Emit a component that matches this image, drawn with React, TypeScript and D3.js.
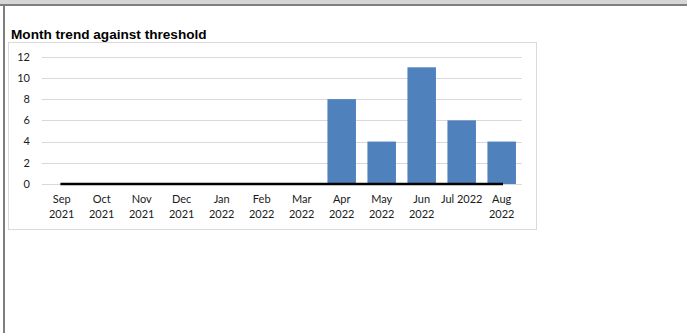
import React from "react";
import * as d3 from "d3";

const categories = ["Sep 2021", "Oct 2021", "Nov 2021", "Dec 2021", "Jan 2022", "Feb 2022", "Mar 2022", "Apr 2022", "May 2022", "Jun 2022", "Jul 2022", "Aug 2022"];
const labelLines = [["Sep", "2021"], ["Oct", "2021"], ["Nov", "2021"], ["Dec", "2021"], ["Jan", "2022"], ["Feb", "2022"], ["Mar", "2022"], ["Apr", "2022"], ["May", "2022"], ["Jun", "2022"], ["Jul 2022"], ["Aug", "2022"]];
const counts = [0, 0, 0, 0, 0, 0, 0, 8, 4, 11, 6, 4];
const threshold = [0, 0, 0, 0, 0, 0, 0, 0, 0, 0, 0, 0];
const yTicks = [0, 2, 4, 6, 8, 10, 12];
const title = "Month trend against threshold";

export default function App() {
  const W = 687, H = 333;
  const x = d3.scaleBand<string>().domain(categories).range([41.7, 521.7]).paddingInner(0.2875).paddingOuter(0.14375);
  const y = d3.scaleLinear().domain([0, 12]).range([184, 56.7]);
  const line = d3.line<number>().x((_, i) => (x(categories[i]) as number) + x.bandwidth() / 2).y((d) => y(d));
  const font = "Lato, 'Open Sans', sans-serif";
  return (
    <svg width={W} height={H} style={{ position: "absolute", left: 0, top: 0, background: "#fff" }}>
      <rect x={0} y={0} width={W} height={4.5} fill="#d6d6d6" />
      <rect x={0} y={4} width={W} height={2} fill="#7f7f7f" />
      <rect x={3} y={5} width={2} height={H - 5} fill="#7f7f7f" />
      <text x={11} y={38.5} fontFamily="'Liberation Sans', Arial, sans-serif" fontWeight="bold" fontSize={13.6} fill="#000">{title}</text>
      <rect x={8.5} y={42.5} width={528} height={187} fill="#fff" stroke="#d9d9d9" strokeWidth={1} />
      {yTicks.map((t) => (
        <g key={t}>
          <line x1={41.7} x2={521.7} y1={Math.round(y(t)) + 0.5} y2={Math.round(y(t)) + 0.5} stroke="#d9d9d9" strokeWidth={1} />
          <text x={30} y={y(t)} dy="0.35em" textAnchor="end" fontFamily={font} fontSize={11} fill="#1a1a1a">{t}</text>
        </g>
      ))}
      {counts.map((v, i) => (
        <rect key={i} x={x(categories[i])} y={y(v)} width={x.bandwidth()} height={y(0) - y(v)} fill="#4f81bd" />
      ))}
      <path d={line(threshold) || ""} fill="none" stroke="#000" strokeWidth={2.6} strokeLinecap="square" />
      {labelLines.map((lines, i) => (
        <text key={i} textAnchor="middle" fontFamily={font} fontSize={11} fill="#1a1a1a">
          {lines.map((s, j) => (
            <tspan key={j} x={(x(categories[i]) as number) + x.bandwidth() / 2} y={203 + j * 15}>{s}</tspan>
          ))}
        </text>
      ))}
    </svg>
  );
}
